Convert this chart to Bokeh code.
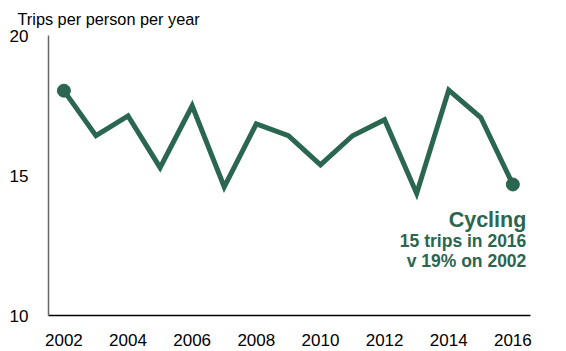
from bokeh.plotting import figure
from bokeh.models import Range1d, FixedTicker, Label
from bokeh.embed import file_html
from bokeh.resources import INLINE

years = [2002, 2003, 2004, 2005, 2006, 2007, 2008, 2009, 2010, 2011, 2012, 2013, 2014, 2015, 2016]
trips = [18.03, 16.42, 17.13, 15.28, 17.49, 14.59, 16.84, 16.42, 15.38, 16.42, 16.99, 14.36, 18.05, 17.07, 14.68]
x_ticks = [2002, 2004, 2006, 2008, 2010, 2012, 2014, 2016]
y_ticks = [10, 15, 20]
y_title = "Trips per person per year"
ann_lines = ["Cycling", "15 trips in 2016", "v 19% on 2002"]

GREEN = "#2a6650"
FONT = "Liberation Sans"

p = figure(width=566, height=351, output_backend="svg", toolbar_location=None,
           x_range=Range1d(2001.52, 2016.55), y_range=Range1d(10, 20),
           min_border_left=48, min_border_right=36, min_border_top=35, min_border_bottom=36,
           title=y_title)
p.title.text_font = FONT
p.title.text_font_size = "16.3px"
p.title.text_font_style = "normal"
p.title.text_color = "black"
p.title.align = "left"
p.title.offset = -31
p.title.standoff = 15

p.outline_line_color = None
p.grid.grid_line_color = None
p.background_fill_color = "white"
p.border_fill_color = "white"

for ax in (p.xaxis, p.yaxis):
    ax.major_tick_line_color = None
    ax.minor_tick_line_color = None
    ax.major_label_text_font = FONT
    ax.major_label_text_font_size = "17px"
    ax.major_label_text_color = "black"
p.xaxis.ticker = FixedTicker(ticks=x_ticks)
p.yaxis.ticker = FixedTicker(ticks=y_ticks)
p.xaxis.axis_line_color = "black"
p.xaxis.axis_line_width = 1.5
p.yaxis.axis_line_color = "#666666"
p.yaxis.axis_line_width = 1.5
p.xaxis.major_label_standoff = 12
p.yaxis.major_label_standoff = 14

p.line(years, trips, line_color=GREEN, line_width=5, line_join="miter")
p.scatter([years[0], years[-1]], [trips[0], trips[-1]], size=13, fill_color=GREEN, line_color=GREEN)

sizes = ["21.5px", "17.5px", "17.5px"]
offs = [-36, -57, -77]
for t, s, o in zip(ann_lines, sizes, offs):
    p.add_layout(Label(x=2016.42, y=trips[-1], y_offset=o, text=t,
                       text_font=FONT, text_font_size=s, text_font_style="bold",
                       text_color=GREEN, text_align="right", text_baseline="alphabetic"))

open("out.html", "w").write(file_html(p, INLINE))
